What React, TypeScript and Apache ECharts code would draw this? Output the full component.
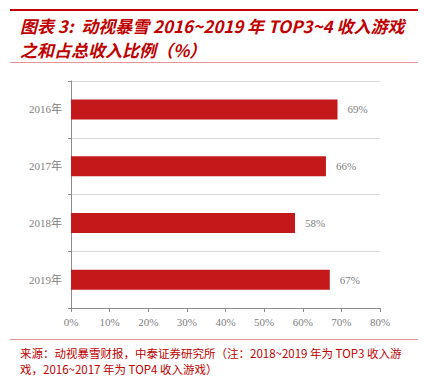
import React, { useEffect, useRef } from "react";
import * as echarts from "echarts";

const categories = ["2016年", "2017年", "2018年", "2019年"];
const shares = [69, 66, 58, 67];
const xTicks = [0, 10, 20, 30, 40, 50, 60, 70, 80];

const titleLine1 = "图表 3:  动视暴雪 2016~2019 年 TOP3~4 收入游戏";
const titleLine2 = "之和占总收入比例（%）";
const sourceLine1 = "来源：动视暴雪财报，中泰证券研究所（注：2018~2019 年为 TOP3 收入游";
const sourceLine2 = "戏，2016~2017 年为 TOP4 收入游戏）";

export default function App() {
  const ref = useRef<HTMLDivElement>(null);
  useEffect(() => {
    const chart = echarts.init(ref.current!, null, { renderer: "svg" });
    const serif = "'Liberation Serif', 'Times New Roman', 'Noto Sans CJK SC', serif";
    chart.setOption({
      animation: false,
      backgroundColor: "#ffffff",
      grid: { left: 71, top: 81, width: 309, height: 227, containLabel: false },
      xAxis: {
        type: "value",
        min: xTicks[0],
        max: xTicks[xTicks.length - 1],
        interval: 10,
        axisLine: { show: true, lineStyle: { color: "#8c8c8c", width: 1 } },
        axisTick: { show: true, length: 4, lineStyle: { color: "#8c8c8c" } },
        axisLabel: { formatter: "{value}%", color: "#808080", fontSize: 11, fontFamily: serif, margin: 8 },
        splitLine: { show: false },
      },
      yAxis: {
        type: "category",
        data: categories,
        inverse: true,
        axisLine: { show: true, lineStyle: { color: "#8c8c8c", width: 1 } },
        axisTick: { show: true, length: 3, lineStyle: { color: "#8c8c8c" } },
        axisLabel: { color: "#808080", fontSize: 11, fontFamily: serif, margin: 9 },
        splitLine: { show: true, lineStyle: { color: "#d9d9d9", width: 1 } },
      },
      series: [
        {
          type: "bar",
          data: shares,
          barWidth: 20,
          itemStyle: { color: "#C4191A" },
          label: {
            show: true,
            position: "right",
            distance: 10,
            formatter: "{c}%",
            color: "#808080",
            fontSize: 11,
            fontFamily: serif,
          },
        },
      ],
      graphic: [
        { type: "rect", shape: { x: 10, y: 9, width: 408, height: 2 }, style: { fill: "#C00000" } },
        {
          type: "text",
          x: 20,
          y: 25,
          style: {
            text: titleLine1,
            fill: "#C00000",
            font: "italic bold 17px 'Noto Sans CJK SC', 'Noto Sans', sans-serif",
            textVerticalAlign: "middle",
          },
        },
        {
          type: "text",
          x: 20,
          y: 49,
          style: {
            text: titleLine2,
            fill: "#C00000",
            font: "italic bold 17px 'Noto Sans CJK SC', 'Noto Sans', sans-serif",
            textVerticalAlign: "middle",
          },
        },
        { type: "rect", shape: { x: 10, y: 62, width: 408, height: 1 }, style: { fill: "#E59595" } },
        { type: "rect", shape: { x: 10, y: 339, width: 408, height: 1 }, style: { fill: "#E59595" } },
        {
          type: "text",
          x: 20,
          y: 353,
          style: {
            text: sourceLine1,
            fill: "#C00000",
            font: "11.5px 'Noto Sans CJK SC', sans-serif",
            textVerticalAlign: "middle",
          },
        },
        {
          type: "text",
          x: 20,
          y: 369,
          style: {
            text: sourceLine2,
            fill: "#C00000",
            font: "11.5px 'Noto Sans CJK SC', sans-serif",
            textVerticalAlign: "middle",
          },
        },
      ],
    });
    return () => chart.dispose();
  }, []);
  return <div ref={ref} style={{ position: "absolute", left: 0, top: 0, width: 424, height: 377 }} />;
}
